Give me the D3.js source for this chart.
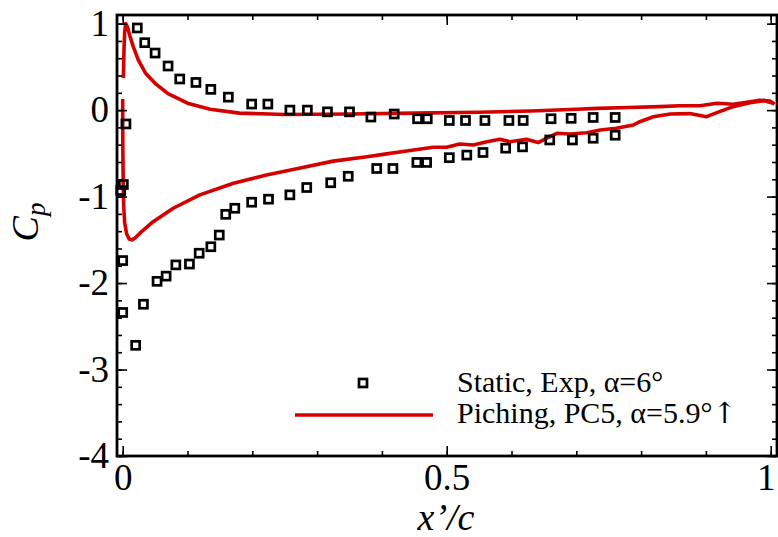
<!DOCTYPE html>
<html>
<head>
<meta charset="utf-8">
<script src="https://cdn.jsdelivr.net/npm/d3@7"></script>
<style>
  html, body { margin: 0; padding: 0; background: #fff; }
  svg { display: block; }
  text { font-family: "Liberation Serif", "Times New Roman", Times, serif; fill: #000; }
</style>
</head>
<body>
<svg id="chart" width="778" height="537"></svg>
<script>
// ---------------- data ----------------
// Static experiment, alpha = 6 deg : upper row (pressure side) [x/c, Cp]
const expPressure = [
  [0.005, -0.16], [0.0225, 0.95], [0.034, 0.78], [0.050, 0.66], [0.070, 0.51],
  [0.088, 0.36], [0.113, 0.32], [0.136, 0.24], [0.163, 0.15], [0.199, 0.07],
  [0.224, 0.07], [0.258, 0.00], [0.285, 0.00], [0.316, -0.02], [0.350, -0.02],
  [0.383, -0.08], [0.419, -0.045], [0.455, -0.10], [0.470, -0.10], [0.504, -0.12],
  [0.529, -0.12], [0.559, -0.12], [0.596, -0.12], [0.618, -0.12], [0.661, -0.10],
  [0.692, -0.095], [0.726, -0.085], [0.760, -0.085]
];
// Static experiment : lower row (suction side) [x/c, Cp]
const expSuction = [
  [-0.003, -0.93], [0.001, -0.86], [0.0, -1.74], [0.0, -2.34], [0.020, -2.72],
  [0.032, -2.245], [0.053, -1.98], [0.067, -1.92], [0.082, -1.79], [0.103, -1.78],
  [0.118, -1.655], [0.136, -1.58], [0.149, -1.445], [0.159, -1.205], [0.173, -1.135],
  [0.199, -1.065], [0.225, -1.03], [0.258, -0.98], [0.284, -0.895], [0.321, -0.84],
  [0.348, -0.765], [0.392, -0.675], [0.417, -0.675], [0.454, -0.605], [0.469, -0.605],
  [0.504, -0.55], [0.531, -0.52], [0.556, -0.49], [0.591, -0.44], [0.617, -0.425],
  [0.659, -0.345], [0.694, -0.345], [0.726, -0.325], [0.760, -0.29]
];
// Pitching, PC5, alpha = 5.9 deg (upstroke) : pressure-side branch
const cfdPressure = [
  [0.001, 0.37], [0.002, 0.70], [0.003, 0.90], [0.0046, 1.00], [0.0075, 0.96],
  [0.011, 0.86], [0.016, 0.74], [0.024, 0.58], [0.035, 0.43], [0.050, 0.31],
  [0.070, 0.19], [0.100, 0.08], [0.135, 0.01], [0.180, -0.035], [0.250, -0.05],
  [0.350, -0.045], [0.450, -0.035], [0.550, -0.025], [0.630, -0.01], [0.700, 0.01],
  [0.732, 0.02], [0.780, 0.03], [0.829, 0.04], [0.860, 0.05], [0.891, 0.05],
  [0.917, 0.079], [0.942, 0.067], [0.963, 0.09], [0.983, 0.115], [0.999, 0.105],
  [1.006, 0.067]
];
// Pitching, PC5 : suction-side branch
const cfdSuction = [
  [0.0, 0.13], [0.0, -0.20], [0.0003, -0.50], [0.0008, -0.85], [0.0015, -1.10],
  [0.003, -1.30], [0.006, -1.43], [0.010, -1.49], [0.014, -1.50], [0.019, -1.48],
  [0.027, -1.42], [0.047, -1.29], [0.078, -1.135], [0.119, -0.98], [0.171, -0.845],
  [0.222, -0.75], [0.274, -0.67], [0.325, -0.59], [0.377, -0.54], [0.402, -0.512],
  [0.438, -0.473], [0.460, -0.45], [0.479, -0.43], [0.500, -0.43], [0.520, -0.392],
  [0.541, -0.404], [0.562, -0.366], [0.582, -0.337], [0.598, -0.366], [0.623, -0.337],
  [0.641, -0.375], [0.654, -0.326], [0.670, -0.268], [0.690, -0.276], [0.716, -0.261],
  [0.737, -0.23], [0.762, -0.21], [0.788, -0.172], [0.798, -0.134], [0.819, -0.076],
  [0.845, -0.045], [0.875, -0.04], [0.901, -0.076], [0.921, -0.018], [0.942, 0.04],
  [0.968, 0.085], [0.989, 0.11], [1.004, 0.08]
];

const xTicks = [0, 0.5, 1];
const xTickLabels = ["0", "0.5", "1"];
const xMinorTicks = [0, 0.1, 0.2, 0.3, 0.4, 0.5, 0.6, 0.7, 0.8, 0.9, 1.0];
const yTicks = [-4, -3, -2, -1, 0, 1];
const yTickLabels = ["-4", "-3", "-2", "-1", "0", "1"];
const yMinorTicks = [-4, -3.8, -3.6, -3.4, -3.2, -3, -2.8, -2.6, -2.4, -2.2, -2, -1.8, -1.6, -1.4,
  -1.2, -1, -0.8, -0.6, -0.4, -0.2, 0, 0.2, 0.4, 0.6, 0.8, 1.0];

const legendLabels = ["Static, Exp, \u03B1=6\u00B0", "Piching, PC5, \u03B1=5.9\u00B0"];
const legendSuffix = ["", "\u2191"];
const xTitle = "x\u2019/c";

// ---------------- layout ----------------
const L = 117, R = 777, T = 15, B = 456;
const red = "#d40000";
const serif = "'Liberation Serif', 'Times New Roman', Times, serif";

const svg = d3.select("#chart");
const x = d3.scaleLinear().domain([-0.0088, 1.0097]).range([L, R]);
const y = d3.scaleLinear().domain([-4, 1.1]).range([B, T]);

// curves
const line = d3.line().x(d => x(d[0])).y(d => y(d[1])).curve(d3.curveLinear);
const gCurves = svg.append("g");
[cfdPressure, cfdSuction].forEach(s => {
  gCurves.append("path").attr("d", line(s))
    .attr("fill", "none").attr("stroke", red).attr("stroke-width", 3.6)
    .attr("stroke-linejoin", "round").attr("stroke-linecap", "butt");
});

// experimental squares
const sq = 8;
svg.append("g").selectAll("rect").data(expPressure.concat(expSuction)).join("rect")
  .attr("x", d => x(d[0]) - sq / 2).attr("y", d => y(d[1]) - sq / 2)
  .attr("width", sq).attr("height", sq)
  .attr("fill", "none").attr("stroke", "#000").attr("stroke-width", 2.7);

// axes
function styleAxis(g) {
  g.select(".domain").remove();
  g.selectAll(".tick line").attr("stroke", "#000").attr("stroke-width", 1.6);
  g.selectAll("text").style("font-family", serif).style("font-size", "37px").attr("fill", "#000");
}
const fmtX = d => xTickLabels[xTicks.indexOf(d)];
const fmtY = d => yTickLabels[yTicks.indexOf(d)];

svg.append("g").attr("transform", `translate(0,${B})`)
  .call(d3.axisBottom(x).tickValues(xMinorTicks).tickSizeInner(-5).tickSizeOuter(0).tickFormat(""))
  .call(styleAxis);
const xAx = svg.append("g").attr("transform", `translate(0,${B})`)
  .call(d3.axisBottom(x).tickValues(xTicks).tickSizeInner(-10).tickSizeOuter(0).tickPadding(8).tickFormat(fmtX))
  .call(styleAxis);
xAx.selectAll(".tick text").filter(d => d === 1).attr("dx", "-5");
svg.append("g").attr("transform", `translate(0,${T})`)
  .call(d3.axisTop(x).tickValues(xMinorTicks).tickSizeInner(-5).tickSizeOuter(0).tickFormat(""))
  .call(styleAxis);
svg.append("g").attr("transform", `translate(0,${T})`)
  .call(d3.axisTop(x).tickValues(xTicks).tickSizeInner(-10).tickSizeOuter(0).tickFormat(""))
  .call(styleAxis);

svg.append("g").attr("transform", `translate(${L},0)`)
  .call(d3.axisLeft(y).tickValues(yMinorTicks).tickSizeInner(-5).tickSizeOuter(0).tickFormat(""))
  .call(styleAxis);
svg.append("g").attr("transform", `translate(${L},0)`)
  .call(d3.axisLeft(y).tickValues(yTicks).tickSizeInner(-10).tickSizeOuter(0).tickPadding(8).tickFormat(fmtY))
  .call(styleAxis);
svg.append("g").attr("transform", `translate(${R},0)`)
  .call(d3.axisRight(y).tickValues(yMinorTicks).tickSizeInner(-5).tickSizeOuter(0).tickFormat(""))
  .call(styleAxis);
svg.append("g").attr("transform", `translate(${R},0)`)
  .call(d3.axisRight(y).tickValues(yTicks).tickSizeInner(-10).tickSizeOuter(0).tickFormat(""))
  .call(styleAxis);

// frame
svg.append("rect").attr("x", L).attr("y", T).attr("width", R - L).attr("height", B - T)
  .attr("fill", "none").attr("stroke", "#000").attr("stroke-width", 2.8);

// axis titles
const yt = svg.append("text")
  .attr("transform", "translate(38,222) rotate(-90)")
  .attr("text-anchor", "middle")
  .style("font-style", "italic").style("font-size", "38px");
yt.append("tspan").text("C");
yt.append("tspan").text("p").attr("dy", "0.25em").style("font-size", "27px");

svg.append("text").attr("x", 446).attr("y", 530).attr("text-anchor", "middle")
  .style("font-style", "italic").style("font-size", "38px").text(xTitle);

// legend
const lg = svg.append("g");
lg.append("rect").attr("x", 363 - sq / 2).attr("y", 383 - sq / 2).attr("width", sq).attr("height", sq)
  .attr("fill", "none").attr("stroke", "#000").attr("stroke-width", 2.7);
lg.append("line").attr("x1", 295).attr("x2", 433).attr("y1", 415).attr("y2", 415)
  .attr("stroke", red).attr("stroke-width", 3.6);
const lt = lg.selectAll("text.lab").data(legendLabels).join("text").attr("class", "lab")
  .attr("x", 457).attr("y", (d, i) => 392 + i * 31)
  .style("font-size", "30px");
lt.append("tspan").text(d => d);
lt.append("tspan").text((d, i) => legendSuffix[i])
  .style("font-family", "'DejaVu Serif', serif").style("font-size", "29px").style("font-weight", "200");
</script>
</body>
</html>
